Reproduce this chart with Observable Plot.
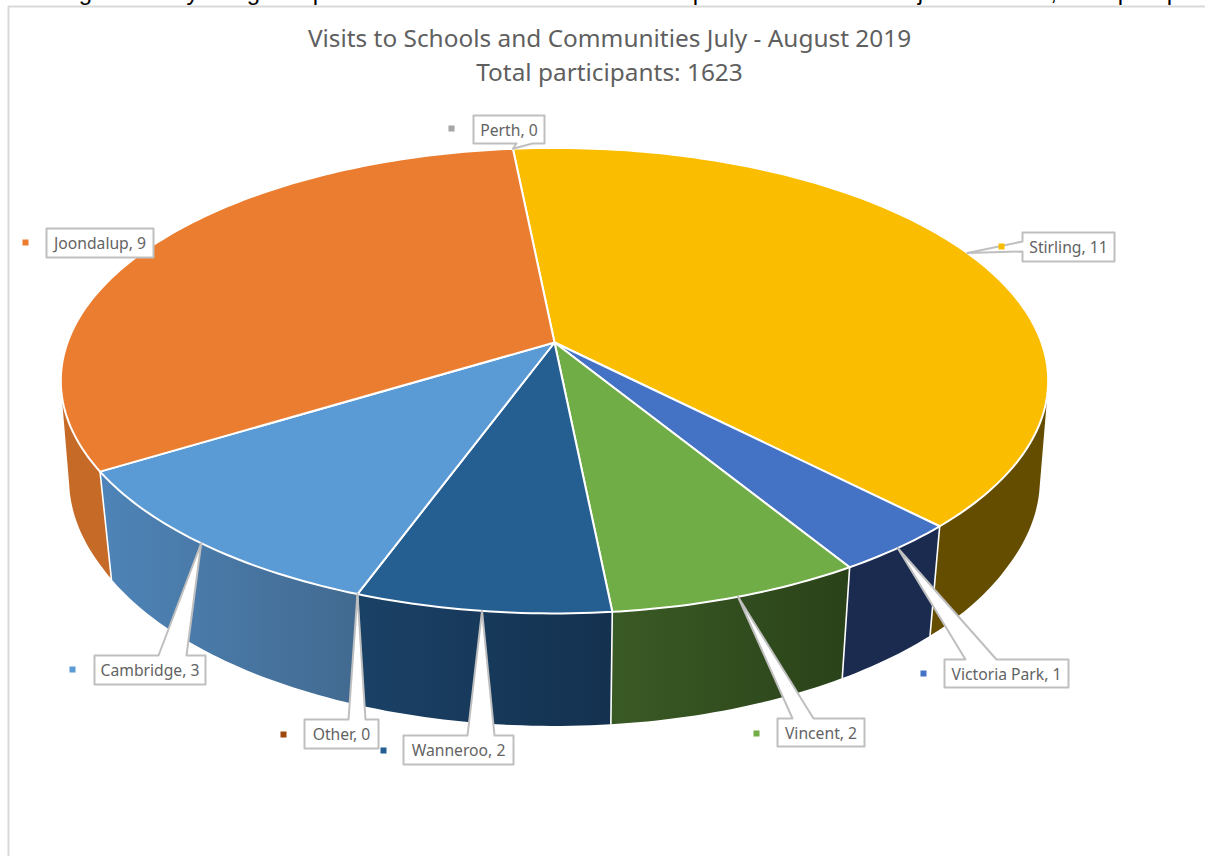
<!DOCTYPE html>
<html>
<head>
<meta charset="utf-8">
<script src="https://cdn.jsdelivr.net/npm/d3@7"></script>
<script src="https://cdn.jsdelivr.net/npm/@observablehq/plot@0.6"></script>
<style>
  html, body { margin: 0; padding: 0; background: #fff; overflow: hidden; }
  svg { display: block; }
</style>
</head>
<body>
<div id="chart"></div>
<script>
// Visits per local government area, clockwise from the top of the pie
const areas  = ["Stirling", "Victoria Park", "Vincent", "Wanneroo", "Other", "Cambridge", "Joondalup", "Perth"];
const visits = [11, 1, 2, 2, 0, 3, 9, 0];

const titleLines = ["Visits to Schools and Communities July - August 2019", "Total participants: 1623"];

// Top-face colour per area
const topColors = ["#fbbd00", "#4472c4", "#70ad47", "#255e91", "#9e480e", "#5b9bd5", "#eb7d31", "#a5a5a5"];
// Side-wall colour at the left and right of each wall
const wallLeft  = ["#654d00", "#1a2b4f", "#3a5a25", "#1a4166", "#5f2b08", "#4e84b8", "#c66a28", "#636363"];
const wallRight = ["#654d00", "#1a2b4f", "#2a4219", "#14314f", "#5f2b08", "#426a90", "#c66a28", "#636363"];

// Callout boxes: [left, top, right, bottom], the stem's two feet, the key square
const boxes = [
  [1022, 232, 1114, 261], [944, 659, 1068, 687], [777, 718, 864, 746], [403, 735, 513, 764],
  [304, 719, 378, 748], [94, 655, 205, 684], [46, 228, 153, 257], [473, 115, 544, 143]
];
const stems = [
  [[1022, 241], [1022, 251]], [[996, 659], [965, 659]], [[813, 718], [792, 718]], [[494, 735], [467, 735]],
  [[365, 719], [348, 719]], [[186, 655], [158, 655]], null, [[532, 143], [516, 143]]
];
const keys = [[1001, 246], [923, 673], [756, 733], [383, 750], [283, 734], [72, 669], [25, 242], [451, 128]];

// Descenders of the line of body text that runs just above the chart frame
const cutLine = [["g", 85], ["y", 192], ["g", 253], ["p", 319], ["p", 699], ["j", 920], [",", 1053], ["p", 1124], ["p", 1173]];

const FONT = "'Noto Sans', 'Open Sans', sans-serif";

// Perspective view of the unit disc
const cx = 554, cy = 342, a = 226.5, b = 487, k = 0.164, startDeg = -5.7;
function rim(deg) {
  const t = deg * Math.PI / 180, X = Math.sin(t), Y = -Math.cos(t), d = 1 - k * Y;
  return [cx + b * X / d, cy + a * Y / d];
}
// The pie's underside: sides converge slightly more towards the viewer
function floor([x, y]) {
  const dy = y - cy;
  const sx = dy <= 38 ? 0.983 : Math.max(0.975, 0.983 - (dy - 38) * 0.0001);
  return [cx + sx * (x - cx), cy + 103 + 1.035 * dy];
}

const total = d3.sum(visits);
let running = 0;
const slices = areas.map((name, i) => {
  const start = startDeg + running / total * 360;
  running += visits[i];
  const end = startDeg + running / total * 360;
  const arc = d3.range(0, Math.ceil(end - start) + 1).map(s => rim(Math.min(start + s, end)));
  return {name, value: visits[i], i, start, end, arc};
});

const pts = path => path.map(([x, y]) => ({x, y}));

// Wall gradients, running across each wall's horizontal extent
const defs = d3.create("svg:defs");
slices.forEach(s => {
  const xs = s.arc.map(p => p[0]);
  const g = defs.append("linearGradient").attr("id", `wall${s.i}`)
    .attr("gradientUnits", "userSpaceOnUse")
    .attr("x1", d3.min(xs)).attr("x2", d3.max(xs)).attr("y1", 0).attr("y2", 0);
  g.append("stop").attr("offset", "0%").attr("stop-color", wallLeft[s.i]);
  g.append("stop").attr("offset", "100%").attr("stop-color", wallRight[s.i]);
});

const drawn = slices.filter(s => s.value > 0);

// A wall is one path of small quads, all wound the same way so that the part
// past the disc's edge stays filled; the walk back along the rim encloses no area.
function wallPath(arc) {
  const path = [];
  arc.slice(1).forEach((p, j) => {
    const q = arc[j], fp = floor(p), fq = floor(q);
    const quad = [q, p, fp, fq];
    const area = d3.polygonArea(quad);
    path.push(...(area >= 0 ? [q, p, fp, fq, q] : [q, fq, fp, p, q]));
  });
  path.push(...arc.slice().reverse());
  return path;
}

const wallMarks = [0, 6, 1, 5, 2, 3].map(i =>
  Plot.line(pts(wallPath(slices[i].arc)), {x: "x", y: "y", fill: `url(#wall${i})`, stroke: "none", curve: "linear"})
);

// White seams between neighbouring walls
const seamMarks = drawn.map(s => {
  const top = rim(s.end);
  return Plot.line(pts([top, floor(top)]), {x: "x", y: "y", stroke: "#fff", strokeWidth: 1.6, curve: "linear"});
});

const topMarks = drawn.map(s => {
  const wedge = [[cx, cy], ...s.arc, [cx, cy]];
  return Plot.line(pts(wedge), {x: "x", y: "y", fill: topColors[s.i], stroke: "#fff", strokeWidth: 2, curve: "linear"});
});

// Each callout is one closed outline: the box, with a stem out to the slice's mid-angle on the rim
const calloutMarks = slices.map(s => {
  const [x0, y0, x1, y1] = boxes[s.i];
  const stem = stems[s.i];
  const tip = rim((s.start + s.end) / 2);
  let outline;
  if (!stem) {
    outline = [[x0, y0], [x1, y0], [x1, y1], [x0, y1], [x0, y0]];
  } else if (stem[0][0] === x0) {
    // stem leaves the left edge
    outline = [[x0, y0], [x1, y0], [x1, y1], [x0, y1], stem[1], tip, stem[0], [x0, y0]];
  } else if (stem[0][1] === y0) {
    // stem leaves the top edge
    outline = [[x0, y0], stem[1], tip, stem[0], [x1, y0], [x1, y1], [x0, y1], [x0, y0]];
  } else {
    // stem leaves the bottom edge
    outline = [[x0, y0], [x1, y0], [x1, y1], stem[0], tip, stem[1], [x0, y1], [x0, y0]];
  }
  return Plot.line(pts(outline), {x: "x", y: "y", fill: "#fff", stroke: "#bfbfbf", strokeWidth: 2, curve: "linear"});
});

const labelRows = slices.map(s => ({
  text: `${s.name}, ${s.value}`,
  x: (boxes[s.i][0] + boxes[s.i][2]) / 2,
  y: (boxes[s.i][1] + boxes[s.i][3]) / 2 + 1
}));
const keyRows = slices.map(s => ({x: keys[s.i][0], y: keys[s.i][1], color: topColors[s.i]}));

const plot = Plot.plot({
  width: 1205,
  height: 856,
  margin: 0,
  x: {type: "identity", axis: null},
  y: {type: "identity", axis: null},
  color: {type: "identity"},
  style: {background: "#fff"},
  marks: [
    () => defs.node(),
    // Body text clipped by the top of the page, and the chart frame
    Plot.text(cutLine, {x: d => d[1], y: () => -1, text: d => d[0], fontSize: 24, fill: "#000", lineAnchor: "bottom", fontFamily: "'Liberation Sans', sans-serif"}),
    Plot.ruleY([6], {x1: 8, x2: 1205, stroke: "#d9d9d9", strokeWidth: 2}),
    Plot.ruleX([8], {y1: 6, y2: 856, stroke: "#d9d9d9", strokeWidth: 2}),

    ...wallMarks,
    ...seamMarks,
    ...topMarks,
    ...calloutMarks,

    Plot.dot(keyRows, {x: "x", y: "y", fill: "color", symbol: "square", r: 3.4, stroke: null}),
    Plot.text(labelRows, {x: "x", y: "y", text: "text", fontSize: 15.7, fill: "#636363", fontFamily: FONT}),

    Plot.text(titleLines, {x: () => 609, y: (d, i) => 39 + i * 34, text: d => d, fontSize: 24.4, fill: "#5f5f5f", fontFamily: FONT})
  ]
});
document.getElementById("chart").append(plot);
</script>
</body>
</html>
